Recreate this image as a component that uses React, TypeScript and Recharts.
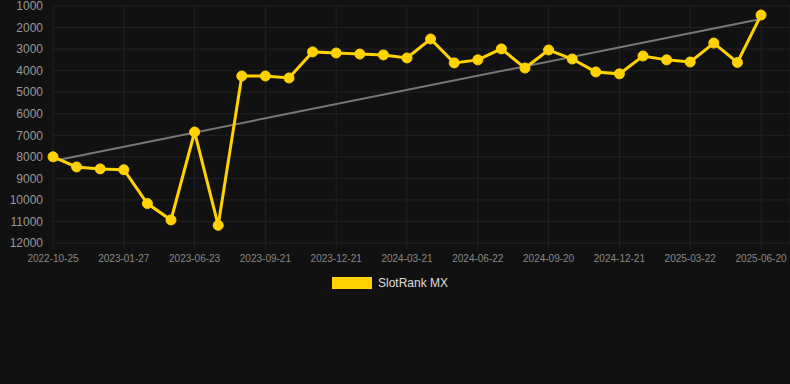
import React from "react";
import { LineChart, Line, XAxis, YAxis, CartesianGrid, Legend } from "recharts";

const dates = [
  "2022-10-25", "2022-11-26", "2022-12-28", "2023-01-27", "2023-03-01", "2023-04-30",
  "2023-06-23", "2023-07-24", "2023-08-22", "2023-09-21", "2023-10-21", "2023-11-20",
  "2023-12-21", "2024-01-20", "2024-02-20", "2024-03-21", "2024-04-21", "2024-05-22",
  "2024-06-22", "2024-07-21", "2024-08-20", "2024-09-20", "2024-10-21", "2024-11-20",
  "2024-12-21", "2025-01-20", "2025-02-20", "2025-03-22", "2025-04-21", "2025-05-21",
  "2025-06-20",
];

const rankValues = [
  8000, 8470, 8560, 8600, 10170, 10930,
  6850, 11180, 4250, 4250, 4340, 3130,
  3180, 3230, 3270, 3410, 2530, 3640,
  3500, 2990, 3880, 3040, 3460, 4060,
  4150, 3320, 3500, 3600, 2720, 3620,
  1420,
];

const trendStart = 8190;
const trendEnd = 1600;

const yTicks = [1000, 2000, 3000, 4000, 5000, 6000, 7000, 8000, 9000, 10000, 11000, 12000];

const seriesName = "SlotRank MX";
const lineColor = "#FFD200";

const data = dates.map((d, i) => ({
  date: d,
  rank: rankValues[i],
  trend: i === 0 ? trendStart : i === dates.length - 1 ? trendEnd : null,
}));

const renderLegend = () => (
  <div
    style={{
      display: "flex",
      justifyContent: "center",
      alignItems: "center",
      height: 20,
      paddingRight: 10,
    }}
  >
    <div style={{ width: 40, height: 12, background: lineColor, marginRight: 6 }} />
    <span style={{ color: "#dddddd", fontSize: 12 }}>{seriesName}</span>
  </div>
);

export default function App() {
  return (
    <div
      style={{
        position: "fixed",
        left: 0,
        top: 0,
        width: 790,
        height: 384,
        background: "#111111",
        fontFamily: "Arial, 'Liberation Sans', sans-serif",
      }}
    >
      <LineChart
        width={790}
        height={384}
        data={data}
        margin={{ top: 6, right: 0, left: 0, bottom: 91 }}
      >
        <CartesianGrid stroke="#222222" strokeWidth={1} />
        <XAxis
          dataKey="date"
          interval={2}
          height={30}
          padding={{ left: 0, right: 29 }}
          axisLine={false}
          tickLine={{ stroke: "#222222" }}
          tickSize={6}
          tickMargin={6}
          tick={{ fill: "#888888", fontSize: 10 }}
        />
        <YAxis
          width={53}
          reversed
          domain={[1000, 12000]}
          ticks={yTicks}
          interval={0}
          axisLine={false}
          tickLine={false}
          tickMargin={4}
          tick={{ fill: "#999999", fontSize: 12 }}
        />
        <Legend verticalAlign="bottom" content={renderLegend} />
        <Line
          dataKey="trend"
          connectNulls
          stroke="#777777"
          strokeWidth={2}
          dot={false}
          activeDot={false}
          legendType="none"
          isAnimationActive={false}
        />
        <Line
          dataKey="rank"
          name={seriesName}
          stroke={lineColor}
          strokeWidth={3}
          dot={{ r: 5, fill: lineColor, stroke: lineColor, strokeWidth: 1 }}
          isAnimationActive={false}
        />
      </LineChart>
    </div>
  );
}
